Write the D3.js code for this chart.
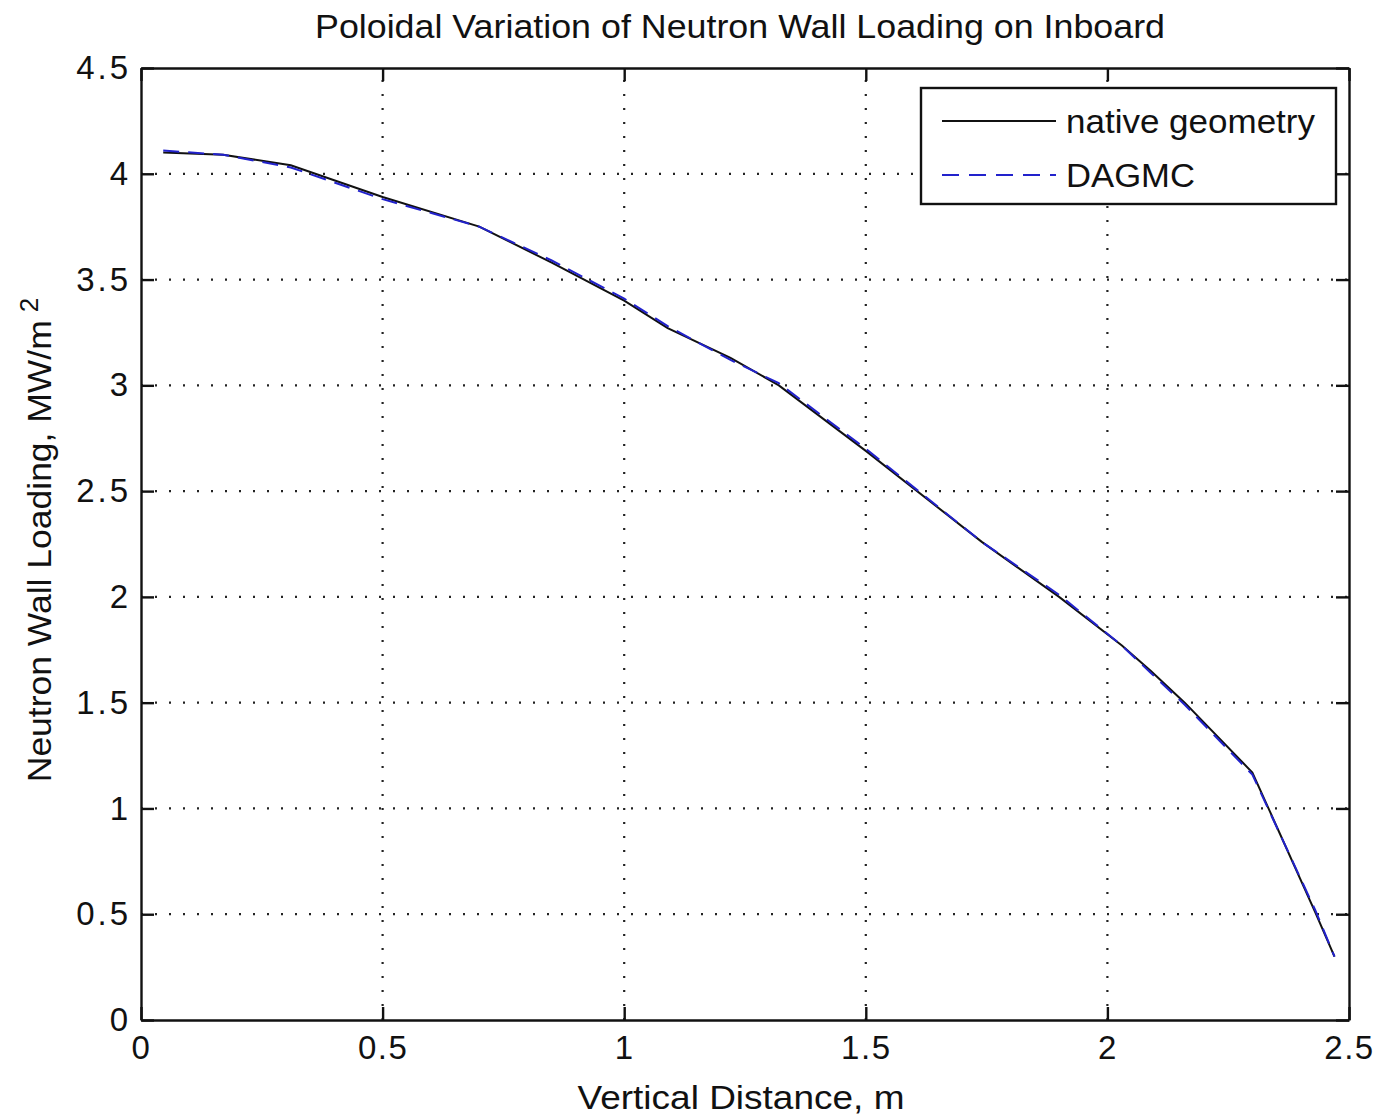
<!DOCTYPE html>
<html>
<head>
<meta charset="utf-8">
<script src="https://cdn.jsdelivr.net/npm/d3@7"></script>
<style>
  body { margin: 0; background: white; }
  text { font-family: "Liberation Sans", Arial, sans-serif; fill: #111; }
</style>
</head>
<body>
<div id="container"></div>
<script>
let w = 1377;
let h = 1116;
let m = {left: 141, right: 28, top: 68, bottom: 96};

// values
let nativeX = [0.046, 0.17, 0.31, 0.50, 0.70, 0.85, 1.00, 1.09, 1.22, 1.32, 1.50, 1.74, 1.90, 2.03, 2.09, 2.16, 2.30, 2.43, 2.47];
let nativeY = [4.10, 4.09, 4.04, 3.89, 3.75, 3.58, 3.40, 3.27, 3.13, 3.00, 2.69, 2.26, 2.00, 1.77, 1.65, 1.50, 1.17, 0.51, 0.30];
let dagmcX = [0.046, 0.17, 0.31, 0.50, 0.70, 0.85, 1.00, 1.09, 1.22, 1.32, 1.50, 1.74, 1.90, 2.03, 2.09, 2.16, 2.30, 2.43, 2.47];
let dagmcY = [4.11, 4.09, 4.03, 3.88, 3.75, 3.59, 3.41, 3.28, 3.12, 3.01, 2.70, 2.26, 2.01, 1.77, 1.64, 1.49, 1.16, 0.52, 0.30];
let xTicks = [0, 0.5, 1, 1.5, 2, 2.5];
let yTicks = [0, 0.5, 1, 1.5, 2, 2.5, 3, 3.5, 4, 4.5];
let legendNames = ["native geometry", "DAGMC"];

let x = d3.scaleLinear().domain([0, 2.5]).range([m.left, w - m.right]);
let y = d3.scaleLinear().domain([0, 4.5]).range([h - m.bottom, m.top]);

let viz = d3.select("#container")
  .append("svg")
    .attr("width", w)
    .attr("height", h)
    .style("background-color", "white");

// dotted grid
viz.append("g").selectAll("line")
  .data(xTicks.slice(1, -1))
  .enter().append("line")
    .attr("x1", d => x(d)).attr("x2", d => x(d))
    .attr("y1", y(0)).attr("y2", y(4.5))
    .attr("stroke", "#222").attr("stroke-width", 2.2)
    .attr("stroke-dasharray", "2,12");
viz.append("g").selectAll("line")
  .data(yTicks.slice(1, -1))
  .enter().append("line")
    .attr("y1", d => y(d)).attr("y2", d => y(d))
    .attr("x1", x(0)).attr("x2", x(2.5))
    .attr("stroke", "#222").attr("stroke-width", 2.2)
    .attr("stroke-dasharray", "2,12");

// axes with inward ticks
let fmt = d => d3.format("")(d);
let axB = viz.append("g").attr("transform", "translate(0," + y(0) + ")")
  .call(d3.axisBottom(x).tickValues(xTicks).tickFormat(fmt).tickSizeInner(-13).tickSizeOuter(0).tickPadding(16));
let axT = viz.append("g").attr("transform", "translate(0," + y(4.5) + ")")
  .call(d3.axisTop(x).tickValues(xTicks).tickFormat("").tickSizeInner(-13).tickSizeOuter(0));
let axL = viz.append("g").attr("transform", "translate(" + x(0) + ",0)")
  .call(d3.axisLeft(y).tickValues(yTicks).tickFormat(fmt).tickSizeInner(-13).tickSizeOuter(0).tickPadding(10));
let axR = viz.append("g").attr("transform", "translate(" + x(2.5) + ",0)")
  .call(d3.axisRight(y).tickValues(yTicks).tickFormat("").tickSizeInner(-13).tickSizeOuter(0));

[axB, axT, axL, axR].forEach(g => {
  g.select(".domain").attr("stroke", "#111").attr("stroke-width", 2.4);
  g.selectAll(".tick line").attr("stroke", "#111").attr("stroke-width", 2.4);
  g.selectAll("text").attr("font-size", 33).attr("fill", "#111")
    .attr("letter-spacing", 3)
    .style("font-family", "'Liberation Sans', Arial, sans-serif");
});
axB.selectAll("text").attr("dy", "0.71em").attr("letter-spacing", 1.5);

// lines
let line = d3.line().x(d => x(d[0])).y(d => y(d[1]));
viz.append("path")
  .datum(d3.zip(nativeX, nativeY))
  .attr("d", line)
  .attr("fill", "none").attr("stroke", "#111").attr("stroke-width", 2);
viz.append("path")
  .datum(d3.zip(dagmcX, dagmcY))
  .attr("d", line)
  .attr("fill", "none").attr("stroke", "#2222cc").attr("stroke-width", 2)
  .attr("stroke-dasharray", "16,9");

// legend
let lg = viz.append("g");
lg.append("rect")
  .attr("x", 921).attr("y", 88).attr("width", 415).attr("height", 116)
  .attr("fill", "white").attr("stroke", "#111").attr("stroke-width", 2.4);
let rowY = [121, 175];
let rowW = [249, 129];
legendNames.forEach((name, i) => {
  lg.append("line")
    .attr("x1", 942).attr("x2", 1056).attr("y1", rowY[i]).attr("y2", rowY[i])
    .attr("stroke", i == 0 ? "#111" : "#2222cc").attr("stroke-width", 2)
    .attr("stroke-dasharray", i == 0 ? null : "17,10");
  lg.append("text")
    .attr("x", 1066).attr("y", rowY[i] + 12)
    .attr("font-size", 33)
    .attr("textLength", rowW[i]).attr("lengthAdjust", "spacingAndGlyphs")
    .text(name);
});

// titles
viz.append("text")
  .attr("x", 740).attr("y", 38)
  .attr("text-anchor", "middle").attr("font-size", 33)
  .attr("textLength", 850).attr("lengthAdjust", "spacingAndGlyphs")
  .text("Poloidal Variation of Neutron Wall Loading on Inboard");
viz.append("text")
  .attr("x", 741).attr("y", 1109)
  .attr("text-anchor", "middle").attr("font-size", 33)
  .attr("textLength", 327).attr("lengthAdjust", "spacingAndGlyphs")
  .text("Vertical Distance, m");
let yl = viz.append("text")
  .attr("transform", "translate(51,540) rotate(-90)")
  .attr("text-anchor", "middle").attr("font-size", 33);
yl.append("tspan").attr("textLength", 462).attr("lengthAdjust", "spacingAndGlyphs")
  .text("Neutron Wall Loading, MW/m");
yl.append("tspan").attr("dx", 8).attr("dy", -13).attr("font-size", 26).text("2");
</script>
</body>
</html>
